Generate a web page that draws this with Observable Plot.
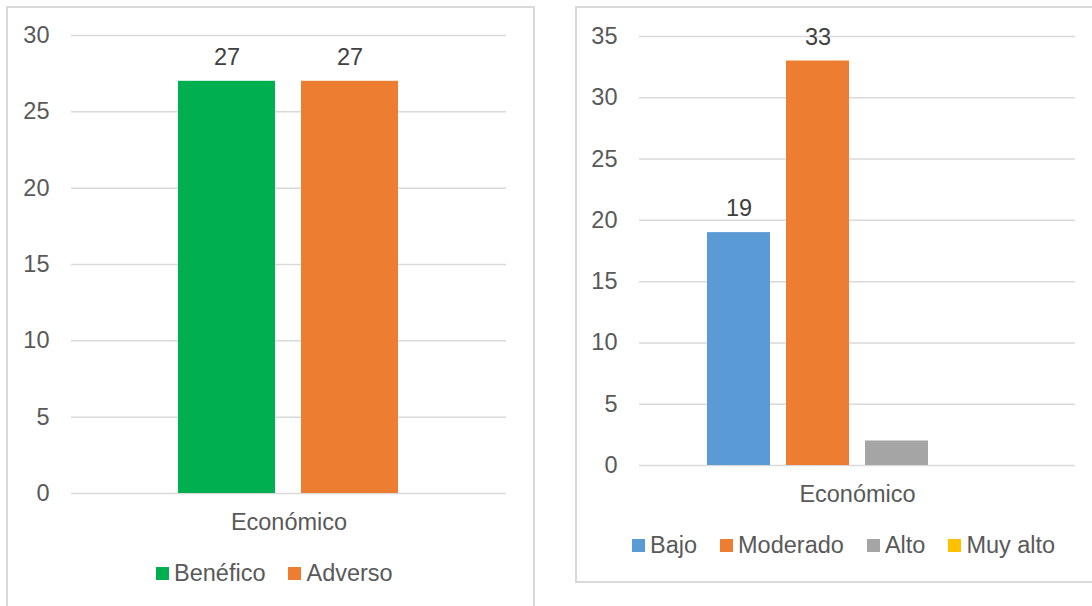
<!DOCTYPE html>
<html>
<head>
<meta charset="utf-8">
<script src="https://cdn.jsdelivr.net/npm/d3@7"></script>
<script src="https://cdn.jsdelivr.net/npm/@observablehq/plot@0.6"></script>
<style>
  html, body { margin: 0; padding: 0; background: #fff; }
  body { width: 1092px; height: 606px; overflow: hidden; position: relative;
         font-family: "Liberation Sans", Arial, sans-serif; }
  .box { position: absolute; border: 2px solid #d9d9d9; box-sizing: border-box; }
  .chart { position: absolute; top: 0; }
  .legend { position: absolute; display: flex; align-items: center; font-size: 23.5px;
            line-height: 26px; color: #595959; white-space: nowrap; }
  .item { display: flex; align-items: center; margin-right: 23px; }
  .sw { width: 13px; height: 13px; margin-right: 5px; flex: none; }
</style>
</head>
<body>
<div class="box" style="left:6px;top:6px;width:529px;height:660px"></div>
<div class="box" style="left:575px;top:6px;width:600px;height:577px"></div>
<div id="left" class="chart" style="left:0px"></div>
<div id="right" class="chart" style="left:560px"></div>
<div id="legL" class="legend" style="left:156px;top:560px"></div>
<div id="legR" class="legend" style="left:632px;top:532px"></div>
<script>
// ---- data ----
const category = "Económico";

const leftSeries = ["Benéfico", "Adverso"];
const leftValues = [27, 27];
const leftLabeled = [true, true];
const leftColors = ["#00B050", "#ED7D31"];
const leftTicks = [0, 5, 10, 15, 20, 25, 30];

const rightSeries = ["Bajo", "Moderado", "Alto", "Muy alto"];
const rightValues = [19, 33, 2, 0];
const rightLabeled = [true, true, false, false];
const rightColors = ["#5B9BD5", "#ED7D31", "#A5A5A5", "#FFC000"];
const rightTicks = [0, 5, 10, 15, 20, 25, 30, 35];

function chart(o) {
  const data = o.series.map((s, i) => ({series: s, value: o.values[i], show: o.labeled[i]}));
  return Plot.plot({
    width: o.width, height: o.height,
    marginLeft: o.ml, marginRight: o.mr, marginTop: o.mt, marginBottom: o.mb,
    style: {background: "transparent", overflow: "visible",
            fontFamily: "'Liberation Sans', Arial, sans-serif", fontSize: "23.5px", color: "#595959"},
    x: {domain: o.series, paddingInner: o.pi, paddingOuter: o.po, axis: null},
    y: {domain: [0, d3.max(o.ticks)], ticks: o.ticks, tickSize: 0, tickPadding: 22, label: null},
    color: {domain: o.series, range: o.colors},
    marks: [
      Plot.ruleY(o.ticks, {stroke: "#d9d9d9", strokeWidth: 1.5}),
      Plot.barY(data, {x: "series", y: "value", fill: "series"}),
      Plot.text(data.filter(d => d.show), {x: "series", y: "value", text: d => String(d.value),
        dy: -24, fill: "#404040", fontSize: 23.5}),
      Plot.text([category], {frameAnchor: "bottom", dy: 36, text: d => d, fill: "#595959", fontSize: 23.5})
    ]
  });
}

document.getElementById("left").appendChild(chart({
  series: leftSeries, values: leftValues, labeled: leftLabeled, colors: leftColors, ticks: leftTicks,
  width: 540, height: 540, ml: 71, mr: 34, mt: 35, mb: 47, pi: 0.21, po: 0.86
}));
document.getElementById("right").appendChild(chart({
  series: rightSeries, values: rightValues, labeled: rightLabeled, colors: rightColors, ticks: rightTicks,
  width: 532, height: 510, ml: 79, mr: 17, mt: 36, mb: 45, pi: 0.2025, po: 0.85
}));

function legend(id, series, colors) {
  const items = d3.select("#" + id).selectAll(".item").data(series).join("div").attr("class", "item");
  items.append("div").attr("class", "sw").style("background", (d, i) => colors[i]);
  items.append("span").text(d => d);
}
legend("legL", leftSeries, leftColors);
legend("legR", rightSeries, rightColors);
</script>
</body>
</html>
